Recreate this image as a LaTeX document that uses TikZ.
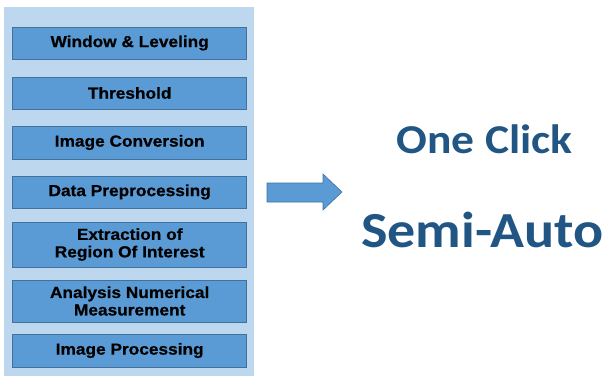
\documentclass[tikz,border=0pt]{standalone}
\usepackage{fontspec}
\setmainfont{Liberation Sans}[BoldFeatures={FakeBold=0.6}]
\newfontfamily\carlito{Carlito}
\definecolor{panelc}{HTML}{BDD7EE}
\definecolor{boxc}{HTML}{5B9BD5}
\definecolor{boxline}{HTML}{41719C}
\definecolor{titlec}{HTML}{215584}
\newcommand\wideb[1]{\scalebox{1.08}[1]{#1}}
\newcommand\widet[1]{\scalebox{1.11}[1]{#1}}
\tikzset{
  stepbox/.style={draw=boxline, line width=0.8pt, fill=boxc, minimum width=234pt,
    inner sep=0pt, align=center, font=\fontsize{16}{17.5}\selectfont\bfseries, text=black},
  bigtext/.style={text=titlec, inner sep=0pt, anchor=base}
}
\begin{document}
\begin{tikzpicture}[x=1pt,y=-1pt]
\useasboundingbox (0,0) rectangle (607,376);
\fill[panelc] (4,7) rectangle (254,376);
\node[stepbox, minimum height=32pt] (b1) at (129.7,43) {\wideb{Window \& Leveling}};
\node[stepbox, minimum height=32pt] (b2) at (129.7,93) {\wideb{Threshold}};
\node[stepbox, minimum height=33pt] (b3) at (129.7,142.5) {\wideb{Image Conversion}};
\node[stepbox, minimum height=32pt] (b4) at (129.7,192) {\wideb{Data Preprocessing}};
\node[stepbox, minimum height=45pt] (b5) at (129.7,244.5) {\wideb{Extraction of}\\\wideb{Region Of Interest}};
\node[stepbox, minimum height=42pt] (b6) at (129.7,301) {\wideb{Analysis Numerical}\\\wideb{Measurement}};
\node[stepbox, minimum height=33pt] (b7) at (129.7,350.5) {\wideb{Image Processing}};
\filldraw[fill=boxc, draw=boxline, line width=0.6pt]
  (267,183) -- (323,183) -- (323,174) -- (342,192) -- (323,210) -- (323,202) -- (267,202) -- cycle;
\node[bigtext, font=\carlito\bfseries\fontsize{41}{45}\selectfont] (t1) at (484.5,153) {\widet{One Click}};
\node[bigtext, font=\carlito\bfseries\fontsize{50.5}{55}\selectfont] (t2) at (482.5,247) {\widet{Semi-Auto}};
\end{tikzpicture}
\end{document}
